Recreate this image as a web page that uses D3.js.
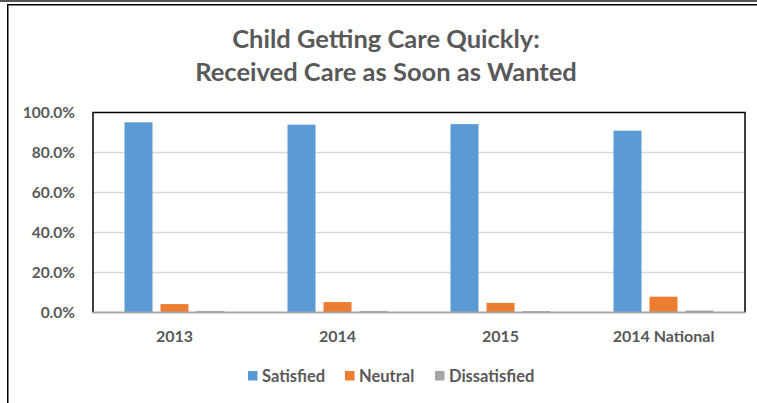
<!DOCTYPE html>
<html><head><meta charset="utf-8">
<script src="https://cdn.jsdelivr.net/npm/d3@7/dist/d3.min.js"></script>
<style>body{margin:0;background:#fff;}svg{display:block;}</style>
</head><body>
<svg id="c" width="757" height="403"></svg>
<script>
const categories = ["2013", "2014", "2015", "2014 National"];
const seriesNames = ["Satisfied", "Neutral", "Dissatisfied"];
const satisfied = [95.1, 93.9, 94.2, 90.9];
const neutral = [4.2, 5.2, 4.8, 7.9];
const dissatisfied = [0.8, 0.8, 0.7, 1.0];
const yTicks = [0, 20, 40, 60, 80, 100];
const titleLines = ["Child Getting Care Quickly:", "Received Care as Soon as Wanted"];
const colors = ["#5B9BD5", "#ED7D31", "#A5A5A5"];
const seriesValues = [satisfied, neutral, dissatisfied];

const svg = d3.select("#c");
const font = "Lato, 'Open Sans', sans-serif";
const txt = "#595959";

// outer frame
svg.append("rect").attr("x", 0).attr("y", 0).attr("width", 757).attr("height", 2).attr("fill", "#555");
svg.append("rect").attr("x", 7).attr("y", 4).attr("width", 750).attr("height", 1.5).attr("fill", "#000");
svg.append("rect").attr("x", 7).attr("y", 4).attr("width", 1.5).attr("height", 399).attr("fill", "#000");

// title
svg.append("g").selectAll("text").data(titleLines).join("text")
  .attr("x", 386).attr("y", (d, i) => 48 + i * 33)
  .attr("text-anchor", "middle").attr("font-family", font).attr("font-weight", "bold")
  .attr("font-size", 25.5).attr("fill", txt).text(d => d);

const L = 93, R = 745, T = 112.5, B = 312.5;
const x0 = d3.scaleBand().domain(categories).range([L, R]).padding(0);
const x1 = d3.scaleBand().domain(seriesNames)
  .range([(x0.bandwidth() - 100) / 2, (x0.bandwidth() + 100) / 2]).paddingInner(8 / 36).paddingOuter(0);
const y = d3.scaleLinear().domain([0, 100]).range([B, T]);

// gridlines
svg.append("g").selectAll("line").data(yTicks.filter(t => t > 0 && t < 100)).join("line")
  .attr("x1", L).attr("x2", R).attr("y1", d => y(d)).attr("y2", d => y(d))
  .attr("stroke", "#D9D9D9").attr("stroke-width", 1.5);

// bars
seriesNames.forEach((s, si) => {
  svg.append("g").selectAll("rect").data(categories).join("rect")
    .attr("x", c => x0(c) + x1(s))
    .attr("y", (c, i) => y(seriesValues[si][i]))
    .attr("width", x1.bandwidth())
    .attr("height", (c, i) => y(0) - y(seriesValues[si][i]))
    .attr("fill", colors[si]);
});

// plot border (top, left, right) and x axis line
svg.append("path").attr("d", `M${L},${B}V${T}H${R}V${B}`).attr("fill", "none")
  .attr("stroke", "#000").attr("stroke-width", 1.5);
svg.append("line").attr("x1", L).attr("x2", R).attr("y1", B).attr("y2", B)
  .attr("stroke", "#A6A6A6").attr("stroke-width", 2);

// y axis labels
const yAxis = d3.axisLeft(y).tickValues(yTicks).tickFormat(d => d.toFixed(1) + "%").tickSize(0).tickPadding(18);
const gy = svg.append("g").attr("transform", `translate(${L},0)`).call(yAxis);
gy.select(".domain").remove();
gy.selectAll("text").attr("font-family", font).attr("font-weight", "bold").attr("font-size", 15.5).attr("fill", txt);

// x axis labels
const xAxis = d3.axisBottom(x0).tickSize(0).tickPadding(18);
const gx = svg.append("g").attr("transform", `translate(0,${B})`).call(xAxis);
gx.select(".domain").remove();
gx.selectAll("text").attr("font-family", font).attr("font-weight", "bold").attr("font-size", 16).attr("fill", txt);

// legend
const legendX = [248, 345, 435];
const lg = svg.append("g").selectAll("g").data(seriesNames).join("g")
  .attr("transform", (d, i) => `translate(${legendX[i]},371)`);
lg.append("rect").attr("width", 9.5).attr("height", 9.5).attr("fill", (d, i) => colors[i]);
lg.append("text").attr("x", 14).attr("y", 10.5).attr("font-family", font).attr("font-weight", "bold")
  .attr("font-size", 16.5).attr("fill", txt).text(d => d);
</script>
</body></html>
